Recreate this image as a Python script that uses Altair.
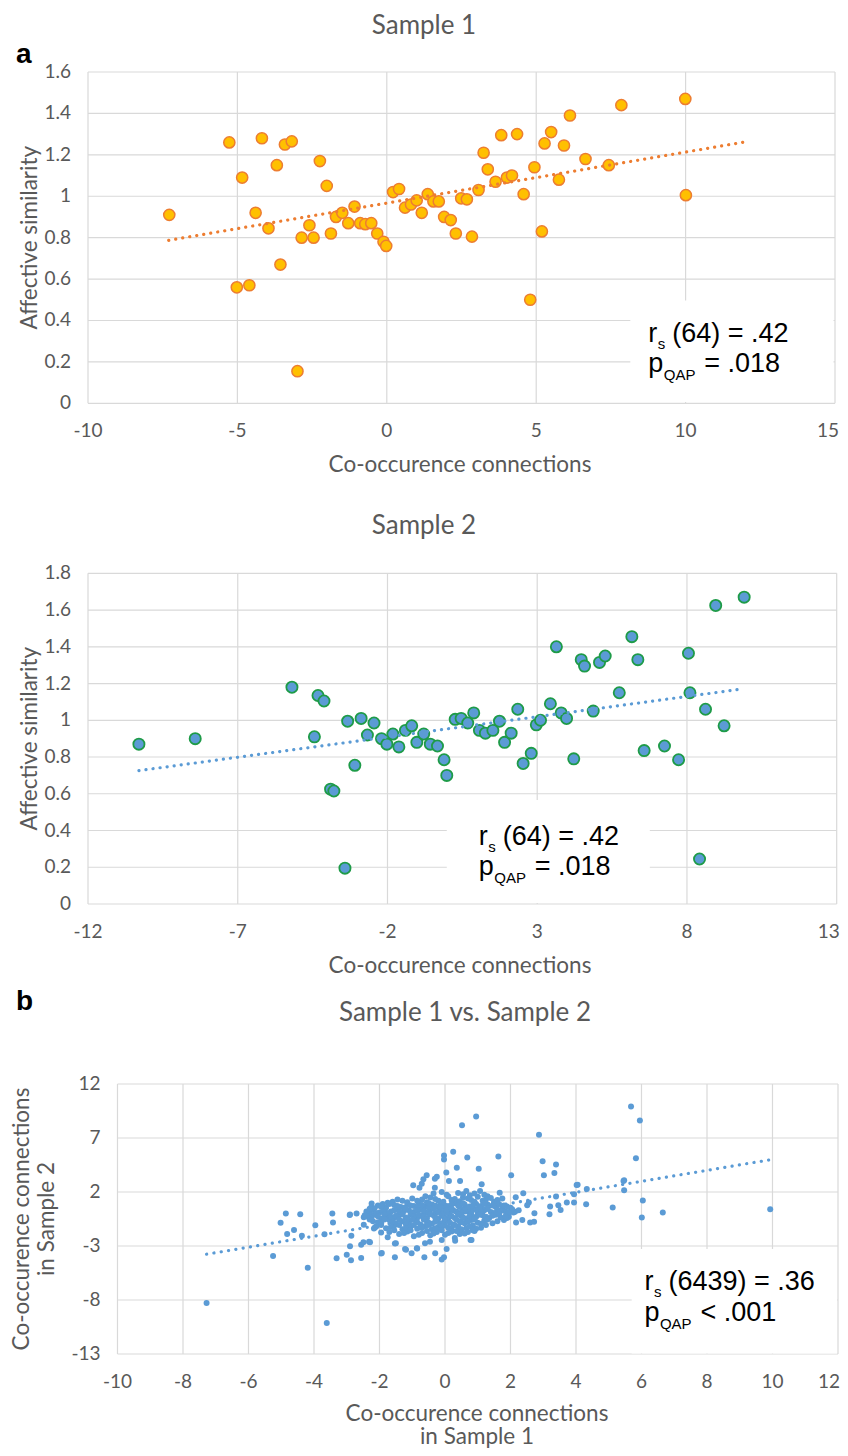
import altair as alt
import pandas as pd

# ---------------- data ----------------
# Panel a, Sample 1
s1_x = [-7.28, -5.27, -4.84, -4.18, -4.39, -5.02, -4.60, -3.68, -3.96, -3.56, -3.41, -3.18,
        -2.99, -2.85, -2.59, -2.45, -2.24, -2.01, -1.87, -1.70, -1.49, -1.29, -1.08, -0.89,
        -0.72, -0.52, -0.32, -0.11, -0.02, 0.21, 0.41, 0.61, 0.81, 1.00, 1.17, 1.37, 1.56,
        1.74, 1.92, 2.14, 2.31, 2.49, 2.68, 2.85, 3.07, 3.24, 3.38, 3.64, 3.83, 4.02, 4.19,
        4.36, 4.58, 4.80, 4.94, 5.19, 5.28, 5.50, 5.76, 5.93, 6.13, 6.65, 7.43, 7.85, 9.99, 10.01]
s1_y = [0.91, 1.26, 1.09, 1.28, 0.92, 0.56, 0.57, 1.15, 0.845, 0.67, 1.25, 1.265,
        0.155, 0.80, 0.86, 0.80, 1.17, 1.05, 0.82, 0.90, 0.92, 0.87, 0.95, 0.87,
        0.865, 0.87, 0.82, 0.78, 0.76, 1.02, 1.035, 0.945, 0.96, 0.98, 0.92, 1.01, 0.975,
        0.975, 0.90, 0.885, 0.82, 0.99, 0.985, 0.805, 1.03, 1.21, 1.13, 1.07, 1.295, 1.09, 1.10,
        1.30, 1.01, 0.50, 1.14, 0.83, 1.255, 1.31, 1.08, 1.245, 1.39, 1.18, 1.15, 1.44, 1.47, 1.005]

# Panel a, Sample 2
s2_x = [-10.30, -8.42, -5.19, -4.44, -4.32, -4.12, -3.90, -3.79, -3.42, -3.33, -3.09, -2.88,
        -2.67, -2.45, -2.20, -2.02, -1.82, -1.62, -1.40, -1.19, -1.02, -0.79, -0.57, -0.33,
        -0.11, -0.02, 0.26, 0.46, 0.68, 0.88, 1.07, 1.27, 1.52, 1.74, 1.91, 2.13, 2.35, 2.53,
        2.80, 2.97, 3.11, 3.44, 3.64, 3.80, 3.98, 4.22, 4.47, 4.58, 4.87, 5.08, 5.27, 5.74,
        6.16, 6.36, 6.57, 7.25, 7.72, 8.05, 8.10, 8.42, 8.62, 8.96, 9.24, 9.91]
s2_y = [0.87, 0.90, 1.18, 0.91, 1.135, 1.105, 0.625, 0.615, 0.195, 0.995, 0.755, 1.01,
        0.92, 0.985, 0.90, 0.87, 0.925, 0.855, 0.945, 0.97, 0.88, 0.925, 0.87, 0.86,
        0.785, 0.70, 1.005, 1.01, 0.985, 1.04, 0.945, 0.93, 0.945, 0.995, 0.88, 0.93, 1.06, 0.765,
        0.82, 0.975, 1.00, 1.09, 1.40, 1.04, 1.01, 0.79, 1.33, 1.295, 1.05, 1.315, 1.35, 1.15,
        1.455, 1.33, 0.835, 0.86, 0.785, 1.365, 1.15, 0.245, 1.06, 1.625, 0.97, 1.67]

# Panel b, scattered pairs away from the dense centre
b_outer_x = [-7.28, -3.61, -5.25, -4.19, -4.86, -4.42, -5.02, -4.61, -4.82, -4.37, -3.96, -3.68,
             -3.44, -3.42, -3.31, -3.00, -2.87, -2.90, -2.70, -2.48, -2.86, -2.90, -2.56, -2.49,
             -2.32, -2.56, -2.17, -2.24, -2.29, -2.09, -1.95, -1.95, -2.48, -2.91,
             0.95, 0.52, 0.25, -0.03, -0.03, 0.68, 0.36, 1.03, 0.04, -0.25, -0.31, -0.56, -0.66,
             -0.71, -0.97, -0.78, 0.12, 0.46, -0.31, 1.12, 1.07, 0.76, -2.29, -2.14, -1.93, -1.53,
             -1.50, -1.22, -1.02, -0.86, -0.63, -0.30, -0.10, -0.03, 0.05, 0.31, 0.78, -0.10, -0.46,
             -1.53, -1.19, -0.85, -0.61,
             2.87, 1.63, 2.98, 3.39, 3.02, 3.34, 2.02, 4.05, 4.33, 2.39, 2.16, 1.67, 2.56, 2.51,
             2.73, 3.21, 3.19, 3.39, 3.46, 3.53, 3.72, 3.94, 3.94, 4.31, 2.17, 2.36, 2.60, 2.72,
             1.93, 2.09, 2.14, 0.81, 4.02, 1.30, 1.50, 1.80, 1.95, 1.75, 1.90, 2.25,
             5.68, 5.95, 5.83, 5.47, 5.47, 6.04, 5.12, 6.65, 6.01, 9.93, 5.45]
b_outer_y = [-8.27, -10.14, -3.92, -5.02, 0.01, -0.05, -0.85, -1.52, -1.89, -2.05, -1.09, -1.92,
             0.01, -0.82, -4.13, -3.82, -4.31, -0.08, 0.01, -0.33, -2.05, -3.02, -2.88, -2.66,
             -2.60, -4.10, -1.37, 0.93, 0.04, 0.04, -1.74, -3.70, -1.04, -0.12,
             8.99, 8.17, 5.72, 5.38, 5.00, 5.19, 4.24, 4.15, 3.81, 3.42, 3.23, 3.56, 3.17,
             2.77, 2.62, 2.40, 3.01, 3.01, 2.40, 2.71, 2.09, 1.70, -2.66, -1.28, -3.64, -4.04,
             -2.75, -3.27, -3.67, -3.21, -4.04, -3.67, -4.26, -4.04, -3.27, -2.51, -2.44, -2.44, -2.60,
             -2.78, -3.34, -3.24, -2.75,
             7.31, 5.28, 4.85, 4.55, 3.54, 3.75, 3.54, 2.68, 2.28, 1.88, 1.51, 1.94, 1.02, 0.78,
             0.04, 0.66, -0.05, 1.58, 0.78, 0.34, 1.02, 1.79, 1.02, 0.87, -0.82, -0.60, -0.82, -0.76,
             0.10, 0.10, 0.16, -2.44, 2.65, 1.60, 1.00, -0.60, -0.30, 0.50, -0.40, 0.30,
             9.91, 8.62, 5.13, 3.08, 2.16, 1.21, 0.56, 0.10, -0.36, 0.41, 3.01]

# Panel b, dense centre (hand-read positions across the blob)
b_core_x = [-1.9, -1.6, -1.3, -1.0, -0.7, -0.45, -0.2, 0.1, 0.3, 0.55, 0.8, 1.0, 1.25, 1.5, 1.75,
            0.4, -0.1, 0.65, -0.35, 0.9,
            -2.25, -2.05, -1.8, -1.55, -1.35, -1.15, -0.95, -0.8, -0.6, -0.4, -0.25, -0.05, 0.15,
            0.3, 0.45, 0.6, 0.75, 0.95, 1.1, 1.3, 1.55, 1.8, 2.0,
            -2.4, -2.2, -2.0, -1.85, -1.65, -1.45, -1.3, -1.1, -0.95, -0.75, -0.6, -0.45, -0.3,
            -0.15, 0.0, 0.1, 0.25, 0.4, 0.55, 0.7, 0.85, 1.0, 1.2, 1.4, 1.6, 1.85, 2.05,
            -2.35, -2.15, -1.95, -1.75, -1.55, -1.4, -1.2, -1.05, -0.9, -0.7, -0.55, -0.35, -0.2,
            -0.05, 0.15, 0.3, 0.5, 0.65, 0.8, 0.95, 1.15, 1.35, 1.55, 1.7,
            -2.2, -1.95, -1.7, -1.5, -1.3, -1.1, -0.9, -0.75, -0.55, -0.4, -0.25, -0.05, 0.1, 0.25,
            0.45, 0.6, 0.8, 1.0, 1.2, 1.45,
            -2.1, -1.8, -1.55, -1.3, -1.05, -0.85, -0.6, -0.4, -0.2, 0.0, 0.2, 0.4, 0.65, 0.85, 1.1,
            -1.7, -1.4, -1.15, -0.95, -0.7, -0.45, -0.25, 0.0, 0.2, 0.45, 0.7, -1.75, 0.3,
            -1.0, -0.5, 0.05, 0.6, -1.6, 0.35, 0.9, -0.8, -0.15, 0.5, -1.25, 1.3]
b_core_y = [0.9, 1.1, 1.2, 1.4, 1.3, 1.5, 1.2, 1.6, 1.35, 1.5, 1.25, 1.55, 1.3, 1.1, 1.4,
            1.9, 2.0, 2.1, 1.85, 1.85,
            0.6, 0.75, 0.55, 0.8, 0.6, 0.9, 0.7, 0.95, 0.65, 0.85, 0.6, 0.9, 0.7,
            0.95, 0.6, 0.85, 0.65, 0.9, 0.7, 0.85, 0.6, 0.75, 0.55,
            0.2, 0.35, 0.1, 0.4, 0.2, 0.45, 0.05, 0.3, 0.15, 0.4, 0.1, 0.35, 0.0,
            0.25, 0.45, 0.1, 0.3, 0.05, 0.4, 0.2, 0.45, 0.1, 0.3, 0.15, 0.35, 0.2, 0.4,
            -0.3, -0.1, -0.45, -0.2, -0.4, -0.1, -0.35, -0.05, -0.45, -0.2, -0.4, -0.15, -0.45,
            -0.25, -0.1, -0.4, -0.2, -0.45, -0.05, -0.3, -0.15, -0.4, -0.1, -0.35,
            -0.7, -0.9, -0.6, -0.95, -0.7, -0.85, -0.6, -1.0, -0.75, -0.95, -0.6, -0.85, -0.65, -1.0,
            -0.7, -0.9, -0.6, -0.85, -0.65, -0.9,
            -1.2, -1.35, -1.1, -1.45, -1.2, -1.4, -1.15, -1.45, -1.25, -1.1, -1.4, -1.2, -1.35, -1.1, -1.3,
            -1.7, -1.9, -1.65, -2.1, -1.8, -2.0, -1.7, -1.95, -1.65, -1.9, -1.7, -2.2, -2.25,
            0.0, 0.55, -0.55, 0.2, -0.8, 1.1, -1.6, -0.25, 0.75, -1.55, 0.25, 0.45]
b_core2_x = [-1.75, -1.45, -1.15, -0.85, -0.55, -0.3, -0.05, 0.2, 0.45, 0.7, 0.9, 1.15, 1.4, 1.6,
             0.05, 0.55, -0.6, 1.2,
             -2.15, -1.95, -1.7, -1.45, -1.25, -1.05, -0.85, -0.7, -0.5, -0.3, -0.15, 0.05, 0.2,
             0.4, 0.55, 0.7, 0.85, 1.05, 1.2, 1.45, 1.65, 1.9,
             -2.3, -2.1, -1.9, -1.75, -1.55, -1.4, -1.2, -1.0, -0.85, -0.65, -0.5, -0.35, -0.2,
             -0.05, 0.05, 0.2, 0.35, 0.5, 0.6, 0.8, 0.95, 1.1, 1.3, 1.5, 1.7, 1.95,
             -2.45, -2.25, -2.05, -1.85, -1.65, -1.5, -1.3, -1.15, -0.95, -0.8, -0.65, -0.45, -0.3,
             -0.1, 0.05, 0.2, 0.4, 0.55, 0.75, 0.9, 1.05, 1.25, 1.45, 1.65, 1.85,
             -2.3, -2.05, -1.85, -1.6, -1.4, -1.2, -1.0, -0.85, -0.65, -0.5, -0.3, -0.15, 0.0, 0.15,
             0.35, 0.5, 0.7, 0.9, 1.1, 1.3, 1.6,
             -1.95, -1.65, -1.4, -1.2, -0.95, -0.7, -0.5, -0.3, -0.1, 0.1, 0.3, 0.5, 0.75, 0.95, 1.25,
             -1.55, -1.25, -1.05, -0.8, -0.55, -0.35, -0.1, 0.1, 0.35, 0.6, 0.85]
b_core2_y = [1.0, 1.3, 1.05, 1.2, 1.05, 1.35, 1.1, 1.25, 1.15, 1.4, 1.1, 1.2, 1.45, 1.25,
             1.75, 1.8, 1.6, 1.75,
             0.5, 0.65, 0.9, 0.7, 0.55, 0.75, 0.55, 0.8, 0.95, 0.75, 0.55, 0.7, 0.85,
             0.75, 0.95, 0.55, 0.75, 0.55, 0.95, 0.75, 0.9, 0.65,
             0.45, 0.0, 0.25, 0.05, 0.3, 0.15, 0.45, 0.0, 0.3, 0.25, 0.05, 0.45, 0.15,
             0.05, 0.3, 0.45, 0.2, 0.1, 0.3, 0.1, 0.35, 0.2, 0.45, 0.05, 0.25, 0.1,
             -0.15, -0.4, -0.25, -0.05, -0.3, -0.2, -0.05, -0.45, -0.25, -0.1, -0.3, -0.05, -0.35,
             -0.1, -0.4, -0.25, -0.05, -0.35, -0.25, -0.45, -0.1, -0.3, -0.2, -0.05, -0.25,
             -0.55, -0.8, -0.55, -0.75, -0.55, -0.95, -0.55, -0.8, -0.55, -0.85, -0.75, -0.95, -0.55, -0.85,
             -0.55, -0.8, -0.75, -0.55, -0.95, -0.55, -0.7,
             -1.05, -1.25, -1.05, -1.35, -1.05, -1.3, -1.05, -1.35, -1.2, -1.3, -1.05, -1.45, -1.2, -1.4, -1.05,
             -1.55, -1.8, -1.55, -1.95, -1.6, -1.85, -1.55, -1.8, -1.6, -1.85, -1.55]

# dotted trend lines (end points)
t1_x, t1_y = [-7.3, 12.06], [0.787, 1.264]
t2_x, t2_y = [-10.3, 9.83], [0.726, 1.170]
tb_x, tb_y = [-7.28, 9.92], [-3.76, 4.98]

# axis ticks and their labels
ax1_x = [-10, -5, 0, 5, 10, 15]
ax1_x_lab = ["-10", "-5", "0", "5", "10", "15"]
ax1_y = [0, 0.2, 0.4, 0.6, 0.8, 1, 1.2, 1.4, 1.6]
ax1_y_lab = ["0", "0.2", "0.4", "0.6", "0.8", "1", "1.2", "1.4", "1.6"]
ax2_x = [-12, -7, -2, 3, 8, 13]
ax2_x_lab = ["-12", "-7", "-2", "3", "8", "13"]
ax2_y = [0, 0.2, 0.4, 0.6, 0.8, 1, 1.2, 1.4, 1.6, 1.8]
ax2_y_lab = ["0", "0.2", "0.4", "0.6", "0.8", "1", "1.2", "1.4", "1.6", "1.8"]
axb_x = [-10, -8, -6, -4, -2, 0, 2, 4, 6, 8, 10, 12]
axb_x_lab = ["-10", "-8", "-6", "-4", "-2", "0", "2", "4", "6", "8", "10", "12"]
axb_y = [-13, -8, -3, 2, 7, 12]
axb_y_lab = ["-13", "-8", "-3", "2", "7", "12"]

# ---------------- style ----------------
GRAY = "#595959"
GRID = "#D9D9D9"
FONT = "Lato"
ARIAL = "Liberation Sans"
ORANGE_FILL = "#FFC000"
ORANGE_EDGE = "#ED7D31"
BLUE = "#5B9BD5"
GREEN = "#1E9B48"
TICK_SIZE = 19
AXT_SIZE = 22.5
TITLE_SIZE = 26
ANN_SIZE = 27
SUB_SIZE = 15


def one():
    return pd.DataFrame({"k": [0]})


def pix_text(text, x, y, size, font=FONT, color=GRAY, weight="normal", align="center",
             baseline="middle", angle=0):
    mk = dict(text=text, font=font, fontSize=size, color=color, fontWeight=weight,
              align=align, baseline=baseline)
    if angle:
        mk["angle"] = angle
    return alt.Chart(one()).mark_text(**mk).encode(x=alt.value(x), y=alt.value(y))


def panel(p):
    xs = alt.Scale(domain=p["xdom"], range=p["xr"], nice=False, zero=False)
    ys = alt.Scale(domain=p["ydom"], range=p["yr"], nice=False, zero=False)

    def X(f):
        return alt.X(f, scale=xs, axis=None)

    def Y(f):
        return alt.Y(f, scale=ys, axis=None)

    xt, yt = p["xt"], p["yt"]
    xd, yd = p["xdom"], p["ydom"]
    layers = []
    # gridlines
    vg = pd.DataFrame({"v": xt, "lo": [yd[0]] * len(xt), "hi": [yd[1]] * len(xt)})
    hg = pd.DataFrame({"v": yt, "lo": [xd[0]] * len(yt), "hi": [xd[1]] * len(yt)})
    layers.append(alt.Chart(vg).mark_rule(color=GRID, strokeWidth=1.2).encode(
        x=X("v:Q"), y=Y("lo:Q"), y2="hi:Q"))
    layers.append(alt.Chart(hg).mark_rule(color=GRID, strokeWidth=1.2).encode(
        y=Y("v:Q"), x=X("lo:Q"), x2="hi:Q"))
    # tick labels (the last x label is kept inside the page edge)
    xl = pd.DataFrame({"v": xt[:-1], "lab": p["xlab"][:-1], "b": [yd[0]] * (len(xt) - 1)})
    xl_last = pd.DataFrame({"v": xt[-1:], "lab": p["xlab"][-1:], "b": [yd[0]]})
    yl = pd.DataFrame({"v": yt, "lab": p["ylab"], "b": [xd[0]] * len(yt)})
    layers.append(alt.Chart(xl).mark_text(font=FONT, fontSize=TICK_SIZE, color=GRAY,
                                          align="center", baseline="middle", dy=28).encode(
        x=X("v:Q"), y=Y("b:Q"), text="lab:N"))
    layers.append(alt.Chart(xl_last).mark_text(font=FONT, fontSize=TICK_SIZE, color=GRAY,
                                               align="right", baseline="middle", dy=28,
                                               dx=p["last_dx"]).encode(
        x=X("v:Q"), y=Y("b:Q"), text="lab:N"))
    layers.append(alt.Chart(yl).mark_text(font=FONT, fontSize=TICK_SIZE, color=GRAY,
                                          align="right", baseline="middle", dx=-17).encode(
        x=X("b:Q"), y=Y("v:Q"), text="lab:N"))
    # white box behind the statistics
    bx = p["box"]
    boxdf = pd.DataFrame({"x1": [bx[0]], "x2": [bx[1]], "y1": [bx[2]], "y2": [bx[3]]})
    layers.append(alt.Chart(boxdf).mark_rect(color="white", opacity=1).encode(
        x=X("x1:Q"), x2="x2:Q", y=Y("y1:Q"), y2="y2:Q"))
    # points
    mk = dict(size=p["size"], fill=p["fill"], opacity=1, fillOpacity=1)
    if p["edge"]:
        mk.update(stroke=p["edge"], strokeWidth=p["sw"], strokeOpacity=1)
    else:
        mk.update(strokeWidth=0)
    pts = pd.DataFrame({"x": p["px"], "y": p["py"]})
    layers.append(alt.Chart(pts).mark_circle(**mk).encode(x=X("x:Q"), y=Y("y:Q")))
    # dotted trend line
    trend = pd.DataFrame({"x": p["tx"], "y": p["ty"]})
    layers.append(alt.Chart(trend).mark_line(color=p["tc"], strokeWidth=3.2,
                                              strokeDash=p["dash"], strokeCap="round").encode(
        x=X("x:Q"), y=Y("y:Q")))
    # statistics text
    ax0, l1, l2 = p["ann_pos"]
    line1, line2 = p["ann_text"]
    pieces = [("r", l1, ANN_SIZE, 0, 0), ("s", l1, SUB_SIZE, 9.5, 7),
              (line1, l1, ANN_SIZE, 24, 0),
              ("p", l2, ANN_SIZE, 0, 0), ("QAP", l2, SUB_SIZE, 15.5, 8),
              (line2, l2, ANN_SIZE, 56, 0)]
    for (t, yy, sz, dx, dy) in pieces:
        layers.append(alt.Chart(pd.DataFrame({"x": [ax0], "y": [yy]})).mark_text(
            text=t, font=ARIAL, fontSize=sz, color="black", align="left",
            baseline="alphabetic", dx=dx, dy=dy).encode(x=X("x:Q"), y=Y("y:Q")))
    # titles and letters (page layout)
    for t in p["texts"]:
        layers.append(t)
    return alt.layer(*layers)


pa = panel(dict(
    xdom=[-10, 15], ydom=[0, 1.6], xr=[80, 827], yr=[395.3, 64],
    xt=ax1_x, yt=ax1_y, xlab=ax1_x_lab, ylab=ax1_y_lab, last_dx=4,
    box=(8.15, 14.95, 0.006, 0.496),
    px=s1_x, py=s1_y, size=125, fill=ORANGE_FILL, edge=ORANGE_EDGE, sw=1.5,
    tx=t1_x, ty=t1_y, tc=ORANGE_EDGE, dash=[0.1, 7],
    ann_pos=(8.75, 0.2976, 0.1527), ann_text=("(64) = .42", "= .018"),
    texts=[pix_text("Sample 1", 416, 26, TITLE_SIZE, baseline="alphabetic"),
           pix_text("a", 8, 55, 28, font=ARIAL, color="black", weight="bold", align="left",
                    baseline="alphabetic"),
           pix_text("Affective similarity", 22, 229.7, AXT_SIZE, angle=270),
           pix_text("Co-occurence connections", 452, 457, AXT_SIZE)]))

p2 = panel(dict(
    xdom=[-12, 13], ydom=[0, 1.8], xr=[80, 828.7], yr=[896, 565.3],
    xt=ax2_x, yt=ax2_y, xlab=ax2_x_lab, ylab=ax2_y_lab, last_dx=3,
    box=(-0.02, 6.76, 0.006, 0.566),
    px=s2_x, py=s2_y, size=125, fill=BLUE, edge=GREEN, sw=1.8,
    tx=t2_x, ty=t2_y, tc=BLUE, dash=[0.1, 7],
    ann_pos=(1.05, 0.321, 0.158), ann_text=("(64) = .42", "= .018"),
    texts=[pix_text("Sample 2", 416, 526, TITLE_SIZE, baseline="alphabetic"),
           pix_text("Affective similarity", 22, 730.7, AXT_SIZE, angle=270),
           pix_text("Co-occurence connections", 452, 958, AXT_SIZE)]))

pb = panel(dict(
    xdom=[-10, 12], ydom=[-13, 12], xr=[109.5, 830], yr=[1346, 1076],
    xt=axb_x, yt=axb_y, xlab=axb_x_lab, ylab=axb_y_lab, last_dx=2,
    box=(5.70, 11.97, -12.96, -3.27),
    px=b_outer_x + b_core_x + b_core2_x, py=b_outer_y + b_core_y + b_core2_y,
    size=36, fill=BLUE, edge=None, sw=0,
    tx=tb_x, ty=tb_y, tc=BLUE, dash=[0.1, 7.3],
    ann_pos=(6.09, -7.11, -9.9), ann_text=("(6439) = .36", "< .001"),
    texts=[pix_text("Sample 1 vs. Sample 2", 457, 1013, TITLE_SIZE, baseline="alphabetic"),
           pix_text("b", 8, 1002, 28, font=ARIAL, color="black", weight="bold", align="left",
                    baseline="alphabetic"),
           pix_text("Co-occurence connections", 14, 1211, AXT_SIZE, angle=270),
           pix_text("in Sample 2", 39, 1211, AXT_SIZE, angle=270),
           pix_text("Co-occurence connections", 469, 1405.5, AXT_SIZE),
           pix_text("in Sample 1", 469, 1428.5, AXT_SIZE)]))

chart = alt.layer(pa, p2, pb).resolve_scale(x="independent", y="independent").properties(
    width=832, height=1440, padding=0, background="white",
    autosize=alt.AutoSizeParams(type="none")
).configure_view(stroke=None)

chart.save("out.html", embed_options={"renderer": "svg", "actions": False})
